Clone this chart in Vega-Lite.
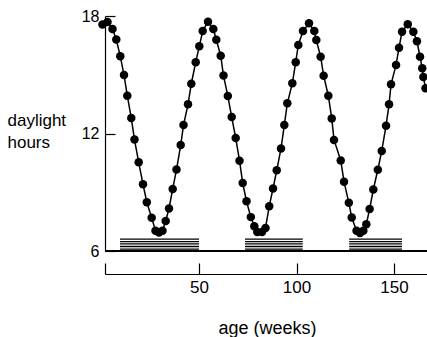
{
  "$schema": "https://vega.github.io/schema/vega-lite/v6.json",
  "width": 322,
  "height": 235,
  "autosize": {"type": "none"},
  "padding": {"left": 105, "top": 16, "right": 0, "bottom": 86},
  "background": "white",
  "config": {
    "view": {"stroke": null},
    "font": "Liberation Sans",
    "axis": {
      "grid": false,
      "domainColor": "black",
      "tickColor": "black",
      "labelColor": "black",
      "titleColor": "black",
      "labelFont": "Liberation Sans",
      "titleFont": "Liberation Sans",
      "titleFontWeight": "normal",
      "domainWidth": 1.2,
      "tickWidth": 1.2
    },
    "axisY": {
      "tickSize": -10,
      "labelPadding": 16,
      "labelFontSize": 16,
      "titleAngle": 0,
      "titleAlign": "left",
      "titleBaseline": "alphabetic",
      "titleX": -98,
      "titleY": 109,
      "titleFontSize": 17,
      "titleLineHeight": 22
    },
    "axisX": {
      "tickSize": -11,
      "offset": 23,
      "labelPadding": 16,
      "labelFontSize": 17,
      "titleFontSize": 18,
      "titleBaseline": "alphabetic",
      "titleY": 59,
      "titleX": 162
    }
  },
  "datasets": {
    "curve": [
      {"week": 0.51, "hours": 17.57},
      {"week": 3.08, "hours": 17.69},
      {"week": 5.64, "hours": 17.34},
      {"week": 7.59, "hours": 16.80},
      {"week": 9.64, "hours": 15.94},
      {"week": 11.54, "hours": 14.99},
      {"week": 13.23, "hours": 13.93},
      {"week": 15.28, "hours": 12.79},
      {"week": 16.92, "hours": 11.69},
      {"week": 19.08, "hours": 10.53},
      {"week": 21.28, "hours": 9.41},
      {"week": 23.23, "hours": 8.49},
      {"week": 25.74, "hours": 7.70},
      {"week": 27.69, "hours": 7.03},
      {"week": 29.49, "hours": 6.94},
      {"week": 31.28, "hours": 7.03},
      {"week": 32.92, "hours": 7.53},
      {"week": 34.62, "hours": 8.17},
      {"week": 36.51, "hours": 9.17},
      {"week": 38.46, "hours": 10.16},
      {"week": 40.62, "hours": 11.41},
      {"week": 42.05, "hours": 12.43},
      {"week": 44.36, "hours": 13.49},
      {"week": 46.05, "hours": 14.54},
      {"week": 48.31, "hours": 15.64},
      {"week": 50.15, "hours": 16.45},
      {"week": 51.90, "hours": 17.23},
      {"week": 54.62, "hours": 17.71},
      {"week": 57.33, "hours": 17.34},
      {"week": 58.87, "hours": 16.79},
      {"week": 61.13, "hours": 15.97},
      {"week": 62.56, "hours": 14.96},
      {"week": 64.77, "hours": 13.92},
      {"week": 66.77, "hours": 12.84},
      {"week": 68.82, "hours": 11.77},
      {"week": 70.77, "hours": 10.61},
      {"week": 72.41, "hours": 9.47},
      {"week": 74.36, "hours": 8.54},
      {"week": 76.56, "hours": 7.73},
      {"week": 78.36, "hours": 7.27},
      {"week": 79.90, "hours": 6.97},
      {"week": 82.31, "hours": 6.97},
      {"week": 84.10, "hours": 7.18},
      {"week": 86.00, "hours": 8.28},
      {"week": 87.95, "hours": 9.19},
      {"week": 89.85, "hours": 10.12},
      {"week": 92.05, "hours": 11.24},
      {"week": 93.74, "hours": 12.43},
      {"week": 95.28, "hours": 13.54},
      {"week": 97.85, "hours": 14.56},
      {"week": 99.59, "hours": 15.64},
      {"week": 100.92, "hours": 16.52},
      {"week": 103.33, "hours": 17.23},
      {"week": 106.41, "hours": 17.63},
      {"week": 109.13, "hours": 17.23},
      {"week": 110.15, "hours": 16.77},
      {"week": 112.36, "hours": 15.92},
      {"week": 113.90, "hours": 14.95},
      {"week": 116.31, "hours": 13.93},
      {"week": 118.05, "hours": 12.77},
      {"week": 119.23, "hours": 11.67},
      {"week": 122.67, "hours": 10.62},
      {"week": 124.36, "hours": 9.54},
      {"week": 126.82, "hours": 8.46},
      {"week": 128.31, "hours": 7.71},
      {"week": 130.77, "hours": 7.03},
      {"week": 132.56, "hours": 6.92},
      {"week": 134.26, "hours": 7.04},
      {"week": 135.79, "hours": 7.37},
      {"week": 137.49, "hours": 8.15},
      {"week": 139.38, "hours": 9.14},
      {"week": 141.69, "hours": 10.15},
      {"week": 143.69, "hours": 11.11},
      {"week": 145.90, "hours": 12.40},
      {"week": 147.44, "hours": 13.49},
      {"week": 148.46, "hours": 14.51},
      {"week": 151.03, "hours": 15.50},
      {"week": 152.56, "hours": 16.38},
      {"week": 154.10, "hours": 17.20},
      {"week": 157.03, "hours": 17.58},
      {"week": 159.90, "hours": 17.20},
      {"week": 161.74, "hours": 16.71},
      {"week": 163.33, "hours": 15.92},
      {"week": 164.46, "hours": 15.33},
      {"week": 165.03, "hours": 14.89},
      {"week": 166.15, "hours": 14.31}
    ],
    "bars": [
      {"start": 9.5, "end": 50.0, "level": 6.10},
      {"start": 9.5, "end": 50.0, "level": 6.23},
      {"start": 9.5, "end": 50.0, "level": 6.36},
      {"start": 9.5, "end": 50.0, "level": 6.48},
      {"start": 9.5, "end": 50.0, "level": 6.61},
      {"start": 73.6, "end": 103.2, "level": 6.10},
      {"start": 73.6, "end": 103.2, "level": 6.23},
      {"start": 73.6, "end": 103.2, "level": 6.36},
      {"start": 73.6, "end": 103.2, "level": 6.48},
      {"start": 73.6, "end": 103.2, "level": 6.61},
      {"start": 127.0, "end": 154.1, "level": 6.10},
      {"start": 127.0, "end": 154.1, "level": 6.23},
      {"start": 127.0, "end": 154.1, "level": 6.36},
      {"start": 127.0, "end": 154.1, "level": 6.48},
      {"start": 127.0, "end": 154.1, "level": 6.61}
    ]
  },
  "layer": [
    {
      "data": {"name": "bars"},
      "mark": {"type": "rule", "color": "black", "strokeWidth": 1.3},
      "encoding": {
        "x": {"field": "start", "type": "quantitative", "title": "age (weeks)", "scale": {"domain": [1.8, 166.9], "nice": false, "zero": false}, "axis": {"values": [1.8, 50, 100, 150], "labelExpr": "datum.value < 10 ? '' : datum.label"}},
        "x2": {"field": "end"},
        "y": {"field": "level", "type": "quantitative", "title": ["daylight", "hours"], "scale": {"domain": [6, 18], "nice": false, "zero": false}, "axis": {"values": [6, 12, 18]}}
      }
    },
    {
      "data": {"name": "curve"},
      "mark": {"type": "rule", "color": "black", "strokeWidth": 1.2},
      "encoding": {
        "y": {"datum": 6, "type": "quantitative"}
      }
    },
    {
      "data": {"name": "curve"},
      "mark": {"type": "line", "color": "black", "strokeWidth": 1.5},
      "encoding": {
        "x": {"field": "week", "type": "quantitative", "title": "age (weeks)", "scale": {"domain": [1.8, 166.9], "nice": false, "zero": false}, "axis": {"values": [1.8, 50, 100, 150], "labelExpr": "datum.value < 10 ? '' : datum.label"}},
        "y": {"field": "hours", "type": "quantitative", "title": ["daylight", "hours"], "scale": {"domain": [6, 18], "nice": false, "zero": false}, "axis": {"values": [6, 12, 18]}}
      }
    },
    {
      "data": {"name": "curve"},
      "mark": {"type": "circle", "color": "black", "opacity": 1, "size": 72},
      "encoding": {
        "x": {"field": "week", "type": "quantitative", "title": "age (weeks)", "scale": {"domain": [1.8, 166.9], "nice": false, "zero": false}, "axis": {"values": [1.8, 50, 100, 150], "labelExpr": "datum.value < 10 ? '' : datum.label"}},
        "y": {"field": "hours", "type": "quantitative", "title": ["daylight", "hours"], "scale": {"domain": [6, 18], "nice": false, "zero": false}, "axis": {"values": [6, 12, 18]}}
      }
    }
  ]
}
